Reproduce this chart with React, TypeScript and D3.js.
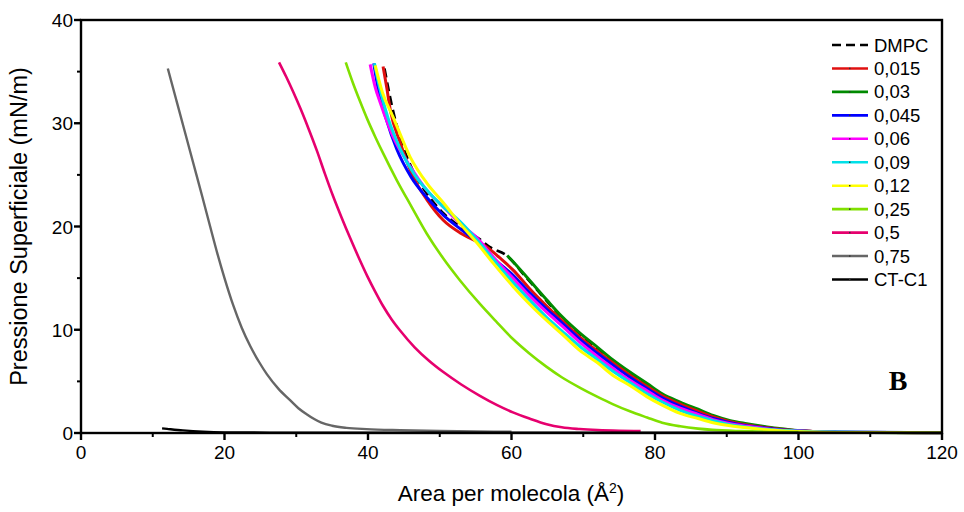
import React from "react";
import * as d3 from "d3";

type Pt = [number, number];

const seriesNames = ["DMPC", "0,015", "0,03", "0,045", "0,06", "0,09", "0,12", "0,25", "0,5", "0,75", "CT-C1"];
const seriesColors = ["#000000", "#e01010", "#008a00", "#0000ff", "#ff00ff", "#00e0e8", "#ffff00", "#80e000", "#e6006e", "#666666", "#000000"];

const xTicks = [0, 20, 40, 60, 80, 100, 120];
const yTicks = [0, 10, 20, 30, 40];

const dmpc: Pt[] = [[42.3,35.3],[42.8,33.5],[43.4,31.5],[44.5,28.6],[46.2,25.5],[48.2,23.2],[50.5,21.3],[53,19.9],[55.5,18.8],[57,18.0],[59.3,17.2],[62,15.1],[64.9,12.8],[67,11.2],[69.5,9.6],[72,8.2],[74.1,7.0],[76.5,5.8],[78.9,4.7],[81,3.7],[83.5,2.9],[86,2.2],[88.1,1.6],[90.5,1.1],[92.8,0.8],[95,0.6],[97,0.4],[99,0.28],[101,0.18],[104,0.1],[110,0.05],[120,0.03]];
const s015: Pt[] = [[42.1,35.5],[42.6,33.5],[43.1,31.3],[44.5,28.1],[46.3,24.8],[48.2,22.6],[50.5,20.6],[52.8,19.4],[55.6,18.4],[56.6,18.0],[58.3,17.0],[60.2,15.8],[62.5,14.0],[64.9,12.3],[67,10.9],[69.5,9.3],[72,7.9],[74.1,6.8],[76.5,5.6],[78.9,4.5],[81,3.6],[83.5,2.8],[86,2.1],[88.1,1.55],[90.5,1.1],[92.8,0.78],[95,0.55],[97,0.4],[99,0.26],[102,0.15],[106,0.08],[120,0.03]];
const s03: Pt[] = [[59.4,17.2],[60.2,16.6],[62,15.2],[64.9,12.9],[67,11.3],[69.5,9.7],[72,8.3],[74.1,7.1],[76.5,5.9],[78.9,4.8],[81,3.8],[83.5,3.0],[86,2.3],[88.1,1.7],[90.5,1.2],[92.8,0.9],[95,0.65],[97,0.45],[99,0.3],[101,0.2],[104,0.1],[110,0.05],[120,0.03]];
const s045: Pt[] = [[40.8,35.8],[41.5,33],[42.5,30.5],[44,27.5],[46,24.8],[48.2,22.8],[50.5,21.1],[53,19.7],[55.6,18.3],[58,16.6],[60.2,15.3],[62.5,13.6],[64.9,12.0],[67,10.7],[69.5,9.1],[72,7.7],[74.1,6.6],[76.5,5.4],[78.9,4.3],[81,3.4],[83.5,2.6],[86,1.9],[88.1,1.4],[90.5,1.0],[92.8,0.7],[95,0.5],[97,0.35],[99,0.25],[102,0.15],[106,0.08],[120,0.03]];
const s06: Pt[] = [[40.3,35.7],[41.0,33.5],[41.7,32.0],[43.5,28.7],[45.9,25.8],[48.2,23.5],[50.5,21.9],[52.8,20.3],[55.2,18.9],[57.5,17.0],[60.2,15.0],[62.5,13.3],[64.9,11.7],[67,10.4],[69.5,8.8],[72,7.4],[74.1,6.3],[76.5,5.1],[78.9,4.1],[81,3.2],[83.5,2.4],[86,1.8],[88.1,1.3],[90.5,0.9],[92.8,0.65],[95,0.45],[97,0.3],[100,0.2],[104,0.1],[120,0.03]];
const s09: Pt[] = [[40.9,35.8],[41.6,33.5],[42.8,30.5],[44.5,27.5],[46.5,25],[48.5,23.3],[50.5,21.9],[52.8,20.5],[55.2,18.7],[57.5,16.8],[60.2,14.6],[62.5,12.9],[64.9,11.2],[67,9.9],[69.5,8.4],[72,7.1],[74.1,6.0],[76.5,4.9],[78.9,3.8],[81,3.0],[83.5,2.2],[86,1.6],[88.1,1.2],[90.5,0.8],[92.8,0.55],[95,0.4],[98,0.25],[102,0.12],[120,0.03]];
const s12: Pt[] = [[41.0,35.6],[42,33],[43.5,30.6],[45.9,26.7],[48.2,24.2],[50.5,22.3],[52.8,20.3],[55.2,18.4],[57.5,16.4],[60.2,14.2],[62.5,12.5],[64.9,10.9],[67,9.6],[69.5,8.0],[72,6.8],[74.1,5.6],[76.5,4.6],[78.9,3.5],[81,2.7],[83.5,1.9],[86,1.4],[88.1,1.0],[90.5,0.7],[92.8,0.5],[95,0.35],[98,0.2],[102,0.1],[106,0.05],[120,0.03]];
const s25: Pt[] = [[36.9,35.9],[37.9,33.9],[38.9,32.1],[39.9,30.4],[41,28.7],[42.1,27.1],[44,24.5],[46,22.0],[48.2,19.3],[50.5,16.9],[52.8,14.8],[55.6,12.5],[58,10.7],[60.2,9.1],[62.5,7.7],[64.9,6.4],[67,5.4],[69.5,4.4],[72,3.5],[74.1,2.8],[76.5,2.1],[78.9,1.5],[81,1.0],[83.5,0.65],[86,0.42],[88,0.3],[92,0.18],[97,0.1],[100,0.08]];
const s5: Pt[] = [[27.6,35.9],[28.6,34.5],[29.6,33.0],[30.6,31.4],[31.7,29.5],[32.9,27.3],[34,25.1],[35.1,23.0],[36.3,20.9],[37.5,18.9],[38.7,17.0],[39.9,15.2],[41,13.7],[42.1,12.3],[43.3,11.0],[44.5,9.9],[46.5,8.3],[48.5,7.0],[50.5,5.9],[53,4.7],[55.6,3.6],[58,2.7],[60.2,2.0],[62.5,1.4],[64.9,0.85],[67,0.55],[69.5,0.38],[72,0.28],[75,0.22],[78,0.2]];
const s75: Pt[] = [[12.1,35.3],[13.3,32.2],[14.5,29.1],[15.7,26.0],[16.9,22.9],[18.0,20.0],[19.0,17.4],[20,15.0],[21.2,12.4],[22.4,10.2],[23.6,8.4],[24.8,6.9],[25.9,5.7],[27.5,4.3],[29.1,3.2],[30.3,2.4],[31.5,1.8],[32.5,1.35],[33.5,1.0],[35,0.7],[37,0.5],[39.8,0.38],[44.5,0.28],[50,0.2],[60,0.12]];
const ctc1: Pt[] = [[11.3,0.45],[12,0.4],[14.2,0.25],[17,0.12],[20,0.06],[30,0.03],[60,0.02],[90,0.02],[120,0.02]];

const seriesData: Pt[][] = [dmpc, s015, s03, s045, s06, s09, s12, s25, s5, s75, ctc1];

const W = 964;
const H = 512;
const X0 = 81, X1 = 942, Y0 = 433, Y1 = 20;

export default function App() {
  const x = d3.scaleLinear().domain([0, 120]).range([X0, X1]);
  const y = d3.scaleLinear().domain([0, 40]).range([Y0, Y1]);
  const line = d3.line<Pt>().x(d => x(d[0])).y(d => y(d[1])).curve(d3.curveMonotoneX);
  const font = "'Liberation Sans', Arial, Helvetica, sans-serif";
  const xMinor = d3.range(10, 120, 20);
  const yMinor = d3.range(5, 40, 10);
  const widths = [2.6, 3, 3, 3, 3, 3, 3, 2.6, 2.6, 2.4, 2.4];
  const drawOrder = [0, 2, 1, 3, 4, 5, 6, 7, 8, 9, 10];
  return (
    <svg width={W} height={H} style={{ position: "absolute", left: 0, top: 0, background: "#fff" }}>
      <rect x={0} y={0} width={W} height={H} fill="#fff" />
      <g>
        {drawOrder.map(i => (
          <path key={i} d={line(seriesData[i]) || ""} fill="none" stroke={seriesColors[i]}
            strokeWidth={widths[i]} strokeDasharray={i === 0 ? "9,5" : undefined} strokeLinejoin="round" />
        ))}
      </g>
      <rect x={X0} y={Y1} width={X1 - X0} height={Y0 - Y1} fill="none" stroke="#000" strokeWidth={2.4} />
      {xTicks.map(t => (
        <g key={"xt" + t}>
          <line x1={x(t)} x2={x(t)} y1={Y0} y2={Y0 + 7} stroke="#000" strokeWidth={2.4} />
          <text x={x(t)} y={459} textAnchor="middle" fontFamily={font} fontSize={19}>{t}</text>
        </g>
      ))}
      {xMinor.map(t => (
        <line key={"xm" + t} x1={x(t)} x2={x(t)} y1={Y0} y2={Y0 + 4} stroke="#000" strokeWidth={2} />
      ))}
      {yTicks.map(t => (
        <g key={"yt" + t}>
          <line x1={X0 - 7} x2={X0} y1={y(t)} y2={y(t)} stroke="#000" strokeWidth={2.4} />
          <text x={X0 - 8} y={y(t) + 7} textAnchor="end" fontFamily={font} fontSize={19}>{t}</text>
        </g>
      ))}
      {yMinor.map(t => (
        <line key={"ym" + t} x1={X0 - 4} x2={X0} y1={y(t)} y2={y(t)} stroke="#000" strokeWidth={2} />
      ))}
      <text x={511} y={501} textAnchor="middle" fontFamily={font} fontSize={22.5}>
        Area per molecola (Å<tspan baselineShift="super" fontSize={14}>2</tspan>)
      </text>
      <text transform={`translate(27,${(Y0 + Y1) / 2}) rotate(-90)`} textAnchor="middle" fontFamily={font} fontSize={23.5}>
        Pressione Superficiale (mN/m)
      </text>
      <g>
        {seriesNames.map((n, i) => {
          const ly = 45 + i * 23.45;
          return (
            <g key={"lg" + i}>
              <line x1={832} x2={868} y1={ly} y2={ly} stroke={seriesColors[i]} strokeWidth={2.6}
                strokeDasharray={i === 0 ? "9,5" : undefined} />
              {i > 0 && <rect x={849} y={ly - 0.7} width={1.5} height={1.4} fill="#333" />}
              <text x={874} y={ly + 6.5} fontFamily={font} fontSize={18.5}>{n}</text>
            </g>
          );
        })}
      </g>
      <text x={898} y={390} textAnchor="middle" fontFamily="'Liberation Serif', 'Times New Roman', serif" fontWeight="bold" fontSize={28}>B</text>
    </svg>
  );
}
